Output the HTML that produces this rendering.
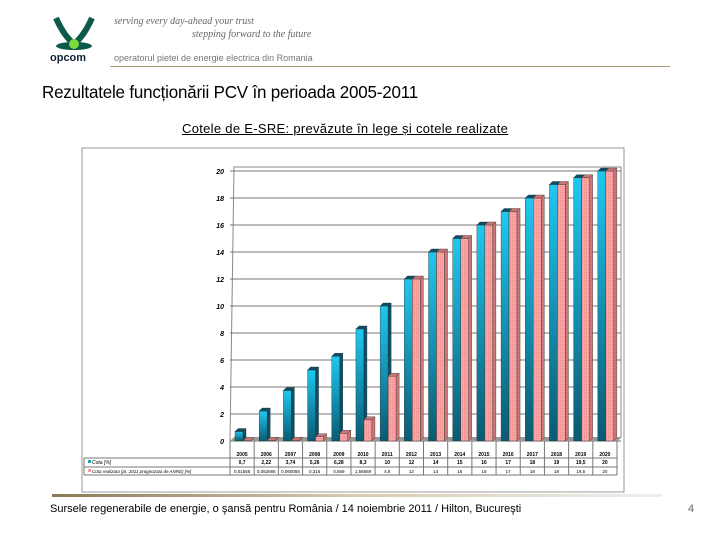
<!DOCTYPE html>
<html><head><meta charset="utf-8"><style>
body{margin:0;width:720px;height:540px;background:#fff;font-family:"Liberation Sans",sans-serif;position:relative;overflow:hidden}
.abs{position:absolute}
</style></head><body>
<div class="abs" style="left:52px;top:14px;width:46px;height:50px">
<svg width="46" height="50"><path d="M4 4 Q12 22 22 30 Q32 22 40 4" stroke="#0b5a4a" stroke-width="6" fill="none"/><ellipse cx="22" cy="32" rx="18" ry="4" fill="#0b5a4a"/><circle cx="22" cy="30" r="5" fill="#7ddc3c"/></svg>
</div>
<div class="abs" style="left:50px;top:52px;font-size:11px;font-weight:bold;color:#123">opcom</div>
<div class="abs" style="left:114px;top:16px;font-size:10px;font-style:italic;color:#666;font-family:'Liberation Serif',serif">serving every day-ahead your trust</div>
<div class="abs" style="left:192px;top:29px;font-size:10px;font-style:italic;color:#666;font-family:'Liberation Serif',serif">stepping forward to the future</div>
<div class="abs" style="left:114px;top:53px;font-size:9px;color:#777">operatorul pietei de energie electrica din Romania</div>
<div class="abs" style="left:110px;top:66px;width:560px;height:1px;background:#aa9977"></div>
<div class="abs" style="left:42px;top:82px;font-size:17.5px;color:#000;letter-spacing:-0.2px;transform:scaleX(0.97);transform-origin:left">Rezultatele funcționării PCV în perioada 2005-2011</div>
<div class="abs" style="left:182px;top:121px;font-size:13px;text-decoration:underline;color:#000;letter-spacing:0.3px">Cotele de E-SRE: prevăzute în lege și cotele realizate</div>
<svg class="abs" style="left:0;top:0" width="720" height="540" id="chart"></svg>
<div class="abs" style="left:52px;top:494px;width:610px;height:3px;background:linear-gradient(90deg,#8a7a55,#d8ccb0,#eee)"></div>
<div class="abs" style="left:50px;top:503px;font-size:11px;color:#000">Sursele regenerabile de energie, o şansă pentru România / 14 noiembrie 2011 / Hilton, Bucureşti</div>
<div class="abs" style="left:688px;top:503px;font-size:11px;color:#666">4</div>
<script>
const years=["2005","2006","2007","2008","2009","2010","2011","2012","2013","2014","2015","2016","2017","2018","2019","2020"];
const cota=[0.7,2.22,3.74,5.26,6.28,8.3,10,12,14,15,16,17,18,19,19.5,20];
const cotaLabels=["0,7","2,22","3,74","5,26","6,28","8,3","10","12","14","15","16","17","18","19","19,5","20"];
const realizata=[0.0155,0.052,0.06,0.316,0.569,1.57,4.8,12,14,15,16,17,18,19,19.5,20];
const realLabels=["0,01555","0,052666","0,060055","0,316","0,569","1,56659","4,8","12","14","15","16","17","18","19","19,5","20"];
const yTicks=[0,2,4,6,8,10,12,14,16,18,20];
const NS="http://www.w3.org/2000/svg",svg=document.getElementById('chart');
const x0=230,x1=617,y0=441,yTop=171,yMax=20;
const cw=(x1-x0)/years.length;
const Y=v=>y0-(y0-yTop)*v/yMax;
const X=i=>x0+cw*i;
function el(t,a,p){const e=document.createElementNS(NS,t);for(const k in a)e.setAttribute(k,a[k]);(p||svg).appendChild(e);return e;}
const defs=el('defs',{});
const g1=el('linearGradient',{id:'gb',x1:0,y1:0,x2:0,y2:1},defs);
el('stop',{offset:0,'stop-color':'#1fc8f0'},g1);el('stop',{offset:1,'stop-color':'#0a5a72'},g1);
const pt=el('pattern',{id:'pp',width:2,height:2,patternUnits:'userSpaceOnUse'},defs);
el('rect',{width:2,height:2,fill:'#f7a8a8'},pt);el('rect',{width:1,height:1,fill:'#e88'},pt);
let f=el('rect',{x:82,y:148,width:542,height:344,fill:'#fff',stroke:'#999'});
let pl=el('polygon',{points:`${x0},${y0} ${x0+4},${yTop-4} ${x1+4},${yTop-4} ${x1+4},${y0-4} ${x1},${y0}`,fill:'#fff',stroke:'#888'});

yTicks.forEach(t=>{
 let l=el('line',{x1:x0,y1:Y(t),x2:x1+4,y2:Y(t),stroke:'#777','stroke-width':1});
 
 let tx=el('text',{x:x0-6,y:Y(t)+3,'text-anchor':'end','font-size':7,'font-weight':'bold','font-style':'italic'});
 tx.textContent=t;
});
let fl=el('polygon',{points:`${x0},${y0} ${x1},${y0} ${x1+5},${y0-4} ${x0+4},${y0-4}`,fill:'#999'});

for(let i=0;i<=years.length;i++){let l=el('line',{x1:X(i),y1:y0,x2:X(i),y2:475,stroke:'#777'});}
function bar(x,v,fill,side,name){
 const y=Y(v),w=8,d=3;
 let r=el('rect',{x:x,y:y,width:w,height:y0-y,fill:fill,stroke:'#333','stroke-width':0.4});
 
 el('polygon',{points:`${x+w},${y} ${x+w+d},${y-d} ${x+w+d},${y0-d} ${x+w},${y0}`,fill:side,stroke:'#333','stroke-width':0.4});
 el('polygon',{points:`${x},${y} ${x+d},${y-d} ${x+w+d},${y-d} ${x+w},${y}`,fill:side,stroke:'#333','stroke-width':0.4});
}
years.forEach((yr,i)=>{
 bar(X(i)+5,cota[i],'url(#gb)','#0b4f66','bar-cota-'+yr);
 bar(X(i)+13,realizata[i],'url(#pp)','#c77','bar-realizata-'+yr);
 let t=el('text',{x:X(i)+cw/2,y:456,'text-anchor':'middle','font-size':5,'font-weight':'bold'});t.textContent=yr;
 t=el('text',{x:X(i)+cw/2,y:464,'text-anchor':'middle','font-size':5,'font-weight':'bold'});t.textContent=cotaLabels[i];
 t=el('text',{x:X(i)+cw/2,y:473,'text-anchor':'middle','font-size':4.5});t.textContent=realLabels[i];
});
el('line',{x1:84,y1:458,x2:x1,y2:458,stroke:'#777'});
el('line',{x1:84,y1:467,x2:x1,y2:467,stroke:'#777'});
el('line',{x1:84,y1:475,x2:x1,y2:475,stroke:'#777'});
el('line',{x1:84,y1:458,x2:84,y2:475,stroke:'#777'});
el('rect',{x:88,y:460,width:3,height:3,fill:'#1ab'});
let lt=el('text',{x:92,y:464,'font-size':5,'font-style':'italic'});lt.textContent='Cota [%]';
el('rect',{x:88,y:469,width:3,height:3,fill:'#f99'});
lt=el('text',{x:92,y:473,'font-size':4.5,'font-style':'italic'});lt.textContent='Cota realizata (pt. 2011 prognozata de ANRE) [%]';
</script>
</body></html>
